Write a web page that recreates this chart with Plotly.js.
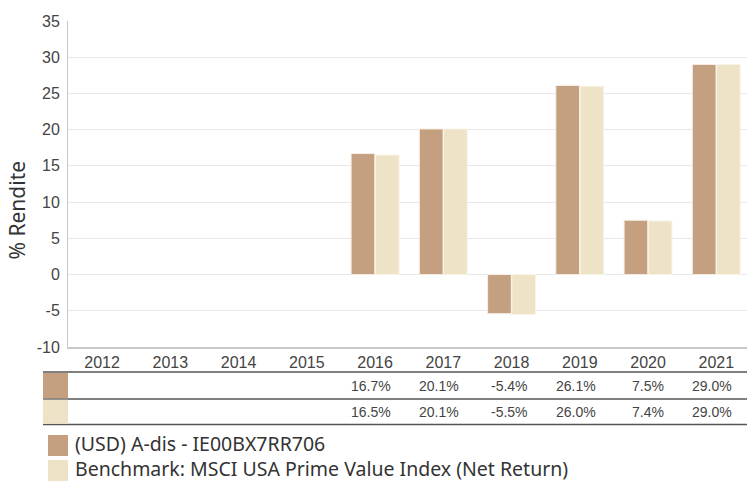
<!DOCTYPE html>
<html><head><meta charset="utf-8">
<script src="https://cdn.plot.ly/plotly-3.0.1.min.js"></script>
<style>html,body{margin:0;padding:0;background:#fff}</style>
</head><body>
<div id="chart" style="width:747px;height:482px"></div>
<script>
const years = ['2012','2013','2014','2015','2016','2017','2018','2019','2020','2021'];
const fundName = '(USD) A-dis - IE00BX7RR706';
const benchName = 'Benchmark: MSCI USA Prime Value Index (Net Return)';
const fundValues = [null,null,null,null,16.7,20.1,-5.4,26.1,7.5,29.0];
const benchValues = [null,null,null,null,16.5,20.1,-5.5,26.0,7.4,29.0];
const yTickVals = [-10,-5,0,5,10,15,20,25,30,35];
const yTickText = ['-10','-5','0','5','10','15','20','25','30','35'];
const yTitle = '% Rendite';
const fundColor = '#c4a080';
const benchColor = '#efe3c7';

const W = 747, H = 482, L = 68, T = 21, B = 347;
const XR = [-0.5, 9.45];
const px2x = p => (p - L) / (W - L);
const py2y = p => (B - p) / (B - T);
const cat2x = i => (i - XR[0]) / (XR[1] - XR[0]);

const fmt = v => v === null ? '' : v.toFixed(1) + '%';
const arial = 'Arial, Liberation Sans, sans-serif';
const uiFont = 'Noto Sans, Open Sans, sans-serif';

const traces = [
  {type:'bar', x:years, y:fundValues, name:fundName, marker:{color:fundColor, line:{color:'#f6efe6', width:1}}, hoverinfo:'skip'},
  {type:'bar', x:years, y:benchValues, name:benchName, marker:{color:benchColor, line:{color:'#f9f4ea', width:1}}, hoverinfo:'skip'}
];

const shapes = [];
const annotations = [];
// table lines
[372, 399, 424.5].forEach(py => shapes.push({type:'line', xref:'paper', yref:'paper', x0:px2x(43), x1:px2x(747), y0:py2y(py), y1:py2y(py), line:{color:'#555', width:1.5}}));
// table swatches
shapes.push({type:'rect', xref:'paper', yref:'paper', x0:px2x(43), x1:px2x(68), y0:py2y(373), y1:py2y(398.3), fillcolor:fundColor, line:{width:0}});
shapes.push({type:'rect', xref:'paper', yref:'paper', x0:px2x(43), x1:px2x(68), y0:py2y(399.8), y1:py2y(423.8), fillcolor:benchColor, line:{width:0}});
// table values
[[fundValues, 386], [benchValues, 412]].forEach(([vals, py]) => {
  vals.forEach((v, i) => {
    if (v === null) return;
    annotations.push({xref:'paper', yref:'paper', x:cat2x(i), y:py2y(py), text:fmt(v), showarrow:false,
      xanchor:'right', yanchor:'middle', xshift:18, font:{family:arial, size:14, color:'#444'}});
  });
});
// legend swatches
[[fundColor, 435, 456], [benchColor, 460, 481]].forEach(([col, y0, y1]) => {
  shapes.push({type:'rect', xref:'paper', yref:'paper', x0:px2x(48), x1:px2x(68), y0:py2y(y0), y1:py2y(y1), fillcolor:col, line:{width:0}});
});
// legend labels (one block, one line per series)
annotations.push({xref:'paper', yref:'paper', x:px2x(74), y:py2y(455.5), text:[fundName, benchName].join('<br>'), showarrow:false,
  xanchor:'left', yanchor:'middle', align:'left', borderpad:0, font:{family:uiFont, size:19.5, color:'#333'}});
// y axis title
annotations.push({xref:'paper', yref:'paper', x:px2x(16.5), y:py2y(210), text:yTitle, textangle:-90, showarrow:false,
  xanchor:'center', yanchor:'middle', font:{family:uiFont, size:21, color:'#333'}});

const layout = {
  width:W, height:H,
  margin:{l:L, r:0, t:T, b:H-B, pad:0},
  paper_bgcolor:'#fff', plot_bgcolor:'#fff',
  showlegend:false,
  barmode:'group', bargap:0.29, bargroupgap:0.02,
  font:{family:arial, color:'#444'},
  xaxis:{type:'category', range:XR, showgrid:false, showline:true, linecolor:'#c8c8c8', linewidth:1.5,
    ticks:'', tickfont:{family:arial, size:16, color:'#444'}, zeroline:false, fixedrange:true},
  yaxis:{range:[-10,35], tickmode:'array', tickvals:yTickVals, ticktext:yTickText, showgrid:true, gridcolor:'#e8e8e8', gridwidth:1,
    showline:true, linecolor:'#c8c8c8', linewidth:1,
    ticks:'', tickfont:{family:arial, size:16, color:'#444'}, zeroline:false, ticklabelstandoff:4},
  shapes:shapes,
  annotations:annotations
};
Plotly.newPlot('chart', traces, layout, {displayModeBar:false, staticPlot:true});
</script>
</body></html>
